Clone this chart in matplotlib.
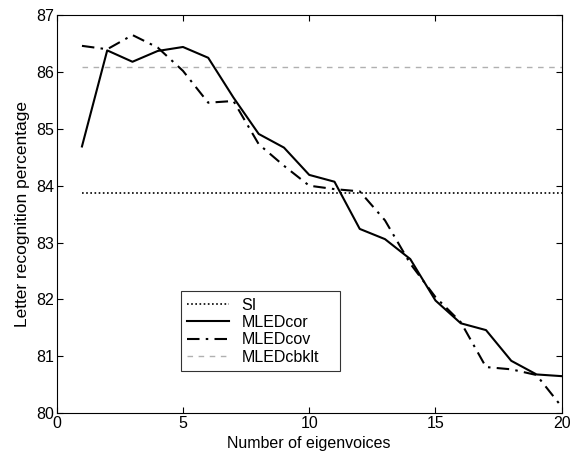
import matplotlib
matplotlib.use('Agg')
import matplotlib.pyplot as plt

# data
eigenvoices = list(range(1, 21))
mled_cor = [84.69, 86.38, 86.18, 86.37, 86.44, 86.25, 85.55, 84.91, 84.67, 84.19,
            84.07, 83.24, 83.06, 82.71, 81.98, 81.58, 81.46, 80.92, 80.68, 80.65]
mled_cov = [86.46, 86.40, 86.65, 86.43, 86.02, 85.46, 85.49, 84.73, 84.35, 84.00,
            83.94, 83.90, 83.39, 82.63, 82.04, 81.60, 80.81, 80.77, 80.67, 80.11]
si_level = 83.87
cbklt_level = 86.09

plt.rcParams['font.family'] = ['Liberation Sans', 'DejaVu Sans']

fig = plt.figure(figsize=(5.87, 4.59), dpi=100)
ax = fig.add_axes([0.0966, 0.1, 0.8604, 0.867])

ax.plot([1, 20], [si_level, si_level], color='black', linestyle=(0, (1, 1.5)), linewidth=1.2, label='SI')
ax.plot(eigenvoices, mled_cor, color='black', linestyle='-', linewidth=1.5, label='MLEDcor')
ax.plot(eigenvoices, mled_cov, color='black', linestyle=(0, (6, 3, 1.2, 3)), linewidth=1.5, label='MLEDcov')
ax.plot([1, 20], [cbklt_level, cbklt_level], color='#b0b0b0', linestyle=(0, (4, 4)), linewidth=1.0, label='MLEDcbklt')

ax.set_xlim(0, 20)
ax.set_ylim(80, 87)
ax.set_xticks([0, 5, 10, 15, 20])
ax.set_yticks(range(80, 88))
ax.tick_params(direction='in', top=True, right=True, labelsize=11.5, length=4, pad=2)
ax.set_xlabel('Number of eigenvoices', fontsize=11.5, labelpad=4)
ax.set_ylabel('Letter recognition percentage', fontsize=12.5, labelpad=4)

leg = ax.legend(loc='lower left', bbox_to_anchor=(0.2455, 0.1055, 0.3155, 0.2245), mode='expand',
                fontsize=11.5, frameon=True, fancybox=False, edgecolor='black',
                borderaxespad=0, handlelength=2.6, labelspacing=0.15)
leg.get_frame().set_linewidth(0.8)

fig.savefig('out.png', dpi=100)
